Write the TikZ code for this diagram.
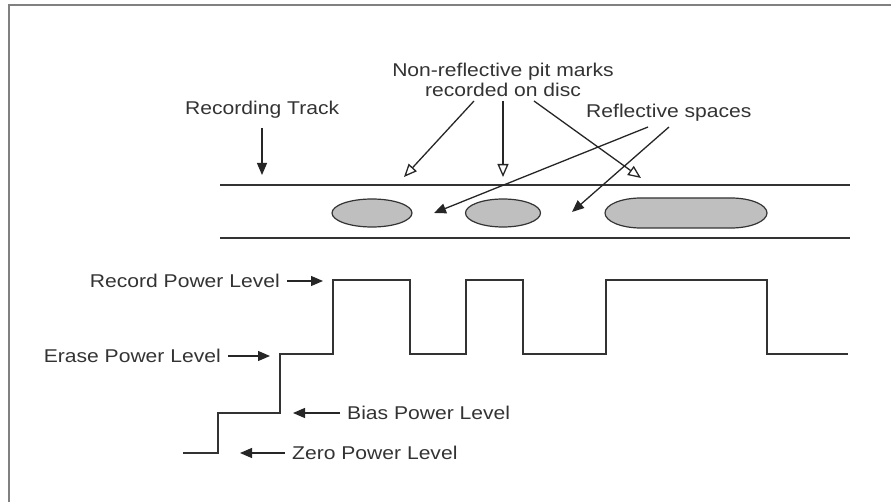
\documentclass[tikz,border=0pt]{standalone}
\usepackage{fontspec}
\setmainfont{Liberation Sans}
\usetikzlibrary{arrows.meta,shapes.geometric}
% labels are set slightly wide
\newcommand{\widetext}[1]{\scalebox{1.14}[1]{#1}}
\begin{document}
\begin{tikzpicture}[x=1pt,y=-1pt,
  ink/.style={draw=black!80, line width=1.7pt},
  lbl/.style={inner sep=0pt, font=\fontsize{18.5}{20}\selectfont, text=black!80},
  solidarrow/.style={draw=black!85, line width=1.3pt, -{Triangle[length=12pt,width=10pt]}},
  openarrow/.style={draw=black!85, line width=1.3pt, -{Triangle[open,length=13pt,width=11pt,line width=1.3pt]}},
  pit/.style={draw=black!80, line width=1.2pt, fill=black!25}]
\useasboundingbox (0,0) rectangle (891,502);
% outer frame
\draw[gray, line width=2.5pt] (9,502) -- (9,5) -- (891,5);

% recording track
\draw[ink] (220,185) -- (850,185);
\draw[ink] (220,238) -- (850,238);
\node[pit, ellipse, minimum width=80pt, minimum height=28pt, inner sep=0pt] (pitA) at (372,213) {};
\node[pit, ellipse, minimum width=75pt, minimum height=28pt, inner sep=0pt] (pitB) at (503,213) {};
% long pit: straight sides with elliptic ends
\draw[pit] (641,198) -- (731,198) arc (-90:90:36 and 15) -- (641,228) arc (90:270:36 and 15) -- cycle;

% laser power waveform
\draw[ink, line join=miter]
  (183,453) -- (218,453) -- (218,413) -- (280,413) -- (280,354) -- (333,354)
  -- (333,280) -- (410,280) -- (410,354) -- (466,354) -- (466,280) -- (523,280)
  -- (523,354) -- (606,354) -- (606,280) -- (767,280) -- (767,354) -- (848,354);

% labels above the track
\node[lbl, anchor=west] (track) at (185,110) {\widetext{Recording Track}};
\node[lbl, align=center] (pits) at (503,80) {\widetext{Non-reflective pit marks}\\\widetext{recorded on disc}};
\node[lbl, anchor=west] (spaces) at (586,113) {\widetext{Reflective spaces}};

\coordinate (trackTip) at (262,175);
\coordinate (pitTipA) at (404,177);
\coordinate (pitTipB) at (503,177);
\coordinate (pitTipC) at (641,178);
\coordinate (spaceTipA) at (434,213);
\coordinate (spaceTipB) at (572,212);
\coordinate (spaceTailA) at (648,127);
\coordinate (spaceTailB) at (669,127);

\draw[solidarrow] (track.south -| trackTip) ++(0,9) -- (trackTip);
\draw[openarrow] ([xshift=-29pt,yshift=-4pt]pits.south) -- (pitTipA);
\draw[openarrow] ([yshift=-4pt]pits.south) -- (pitTipB);
\draw[openarrow] ([xshift=31pt,yshift=-4pt]pits.south) -- (pitTipC);
\draw[solidarrow] (spaceTailA) -- (spaceTipA);
\draw[solidarrow] (spaceTailB) -- (spaceTipB);

% power level labels
\node[lbl, anchor=east] (rec) at (280,281) {\widetext{Record Power Level}};
\node[lbl, anchor=east] (erase) at (221,356) {\widetext{Erase Power Level}};
\node[lbl, anchor=west] (bias) at (347,413) {\widetext{Bias Power Level}};
\node[lbl, anchor=west] (zero) at (292,453) {\widetext{Zero Power Level}};

\draw[solidarrow] ([xshift=7pt]rec.east) -- ++(36,0);
\draw[solidarrow] ([xshift=7pt]erase.east) -- ++(42,0);
\draw[solidarrow] ([xshift=-7pt]bias.west) -- ++(-47,0);
\draw[solidarrow] ([xshift=-7pt]zero.west) -- ++(-45,0);
\end{tikzpicture}
\end{document}
